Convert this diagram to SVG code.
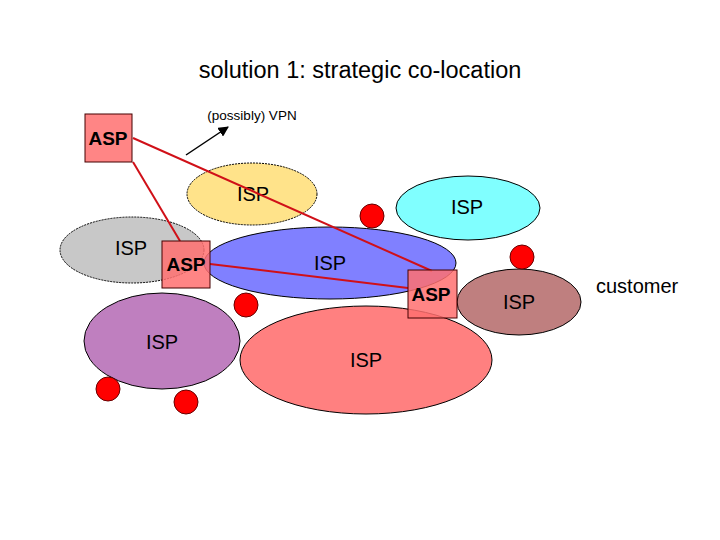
<svg xmlns="http://www.w3.org/2000/svg" width="720" height="540" viewBox="0 0 720 540">
<defs>
<style>
.t{font-family:"Liberation Sans",Arial,sans-serif;fill:#000}
.isp{font-family:"Liberation Sans",Arial,sans-serif;font-size:20px;text-anchor:middle;dominant-baseline:central}
.asp{font-family:"Liberation Sans",Arial,sans-serif;font-size:19px;font-weight:bold;text-anchor:middle;dominant-baseline:central}
.el{stroke:#000;stroke-width:1}
.dot{fill:#ff0000;stroke:#600;stroke-width:1}
.box{fill:#ff7070;fill-opacity:0.85;stroke:#400;stroke-width:1}
.link{stroke:#d01018;stroke-width:2;fill:none}
</style>
<marker id="ah" viewBox="0 0 10 10" refX="9" refY="5" markerWidth="7" markerHeight="7" orient="auto">
<path d="M0,0 L10,5 L0,10 z" fill="#000"/>
</marker>
</defs>
<rect width="720" height="540" fill="#fff"/>
<text class="t" x="360" y="78" font-size="23.5" text-anchor="middle">solution 1: strategic co-location</text>
<text class="t" x="252" y="120" font-size="13.5" text-anchor="middle">(possibly) VPN</text>
<line x1="186" y1="155" x2="228" y2="127" stroke="#000" stroke-width="1.5" marker-end="url(#ah)"/>

<g id="isp-yellow"><ellipse class="el" cx="252" cy="194" rx="65" ry="31" fill="#ffe38a" stroke-dasharray="2,1"/><text class="isp" x="253" y="194">ISP</text></g>
<g id="isp-gray"><ellipse class="el" cx="132" cy="250" rx="72" ry="33" fill="#c8c8c8" stroke-dasharray="2,1"/><text class="isp" x="131" y="248">ISP</text></g>
<g id="isp-cyan"><ellipse class="el" cx="468" cy="208" rx="72" ry="32" fill="#80ffff"/><text class="isp" x="467" y="207">ISP</text></g>
<g id="isp-blue"><ellipse class="el" cx="330" cy="263" rx="126" ry="36" fill="#8080ff"/><text class="isp" x="330" y="263">ISP</text></g>
<g id="isp-brown"><ellipse class="el" cx="519" cy="302" rx="62" ry="33" fill="#bf7f7f"/><text class="isp" x="519" y="302">ISP</text></g>
<g id="isp-purple"><ellipse class="el" cx="162" cy="341" rx="78" ry="48" fill="#bf7fbf"/><text class="isp" x="162" y="342">ISP</text></g>
<g id="isp-salmon"><ellipse class="el" cx="366" cy="360" rx="126" ry="54" fill="#ff8080"/><text class="isp" x="366" y="360">ISP</text></g>

<g id="connectors">
<line class="link" x1="133" y1="138" x2="432" y2="271"/>
<line class="link" x1="133" y1="162" x2="180" y2="241"/>
<line class="link" x1="210" y1="264" x2="408" y2="288"/>
</g>

<g id="asp-1"><rect class="box" x="85" y="114" width="47" height="48"/><text class="asp" x="108" y="138">ASP</text></g>
<g id="asp-2"><rect class="box" x="162" y="241" width="48" height="47"/><text class="asp" x="186" y="264">ASP</text></g>
<g id="asp-3"><rect class="box" x="408" y="270" width="49" height="48"/><text class="asp" x="431" y="294">ASP</text></g>

<g id="customers">
<circle class="dot" cx="372" cy="216" r="12"/>
<circle class="dot" cx="522" cy="257" r="12"/>
<circle class="dot" cx="246" cy="305" r="12"/>
<circle class="dot" cx="108" cy="389" r="12"/>
<circle class="dot" cx="186" cy="402" r="12"/>
</g>
<text class="t" x="596" y="293" font-size="20">customer</text>
</svg>
